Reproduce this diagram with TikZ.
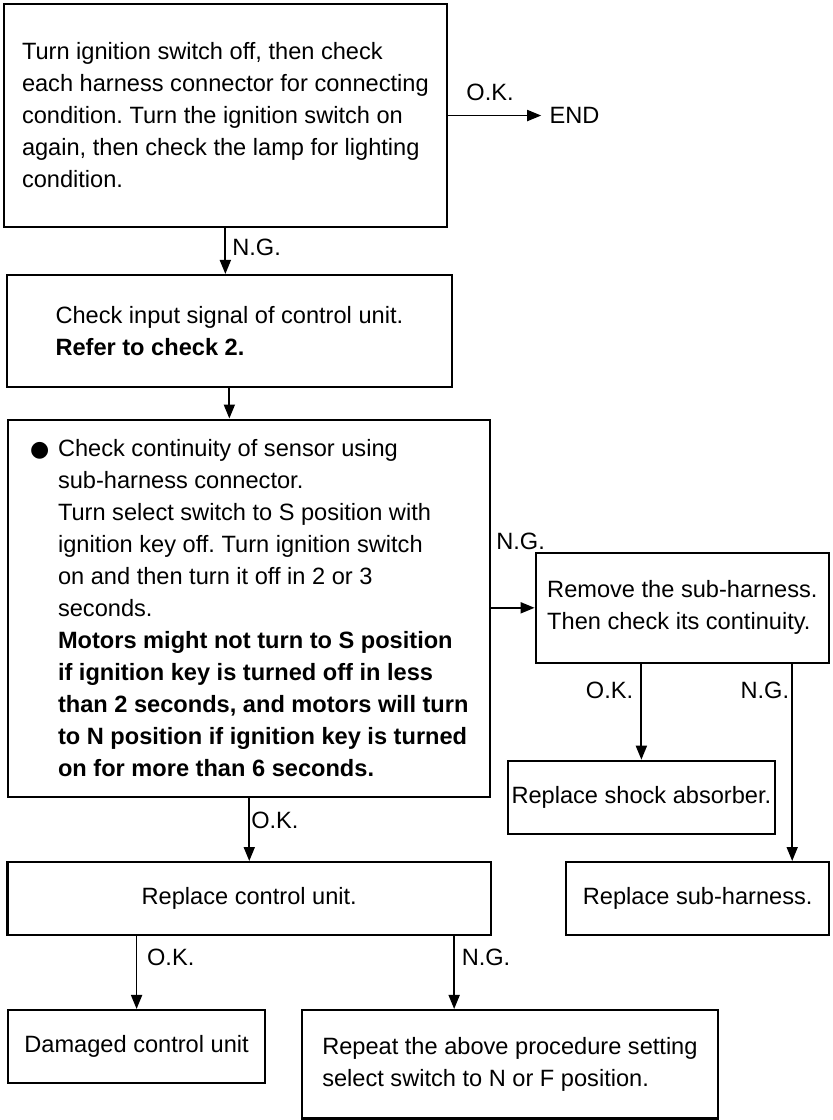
\documentclass[tikz,border=0pt]{standalone}
\usepackage{fontspec}
\setmainfont{Liberation Sans}
\newfontfamily\dotfont{DejaVu Sans}
\usetikzlibrary{arrows.meta}

\newcommand{\bul}{\makebox[14pt][l]{\dotfont\fontsize{11}{11}\selectfont ●}}
\newcommand{\ind}{\hspace*{14pt}}

\begin{document}
\frenchspacing
\begin{tikzpicture}[
  font=\fontsize{11.8}{16}\selectfont,
  box/.style={draw, line width=1.2pt, align=left, inner sep=0pt},
  lbl/.style={inner sep=1pt},
  arr/.style={-{Triangle[length=7pt, width=5.5pt]}, line width=0.9pt}
]
\useasboundingbox[fill=white] (0,0) rectangle (14.62,-19.68);

% --- ignition / harness check ---
\node[box, minimum width=77.8mm, minimum height=39.2mm] (chk1) at (3.96,-2.03)
  {Turn ignition switch off, then check\\each harness connector for connecting\\condition. Turn the ignition switch on\\again, then check the lamp for lighting\\condition.};
\node[lbl, anchor=west, inner xsep=4pt] (end) at (9.51,-2.03) {END};
\node[lbl] (ok1) at (8.61,-1.63) {O.K.};
\draw[arr] (chk1.east) -- (chk1.east -| end.west);

% --- input signal ---
\node[box, minimum width=78.2mm, minimum height=19.7mm] (chk2) at (4.03,-5.82)
  {Check input signal of control unit.\\\textbf{Refer to check 2.}};
\node[lbl, anchor=west] (ng1) at (4.04,-4.34) {N.G.};
\draw[arr] (chk1.south) -- (chk1.south |- chk2.north);

% --- sensor continuity ---
\node[box, minimum width=84.7mm, minimum height=66.3mm] (chk3) at (4.38,-10.69)
  {\bul Check continuity of sensor using\\
   \ind sub-harness connector.\\
   \ind Turn select switch to S position with\\
   \ind ignition key off. Turn ignition switch\\
   \ind on and then turn it off in 2 or 3\\
   \ind seconds.\\
   \ind\textbf{Motors might not turn to S position}\\
   \ind\textbf{if ignition key is turned off in less}\\
   \ind\textbf{than 2 seconds, and motors will turn}\\
   \ind\textbf{to N position if ignition key is turned}\\
   \ind\textbf{on for more than 6 seconds.}};
\draw[arr] (chk2.south) -- (chk2.south |- chk3.north);

% --- sub-harness branch ---
\node[box, minimum width=51.5mm, minimum height=19.3mm] (subh) at (11.99,-10.68)
  {Remove the sub-harness.\\Then check its continuity.};
\node[lbl, anchor=west] (ng2) at (8.68,-9.52) {N.G.};
\draw[arr] (chk3.east |- subh.west) -- (subh.west);

\node[box, minimum width=46.9mm, minimum height=12.8mm] (shock) at (11.27,-14.01) {Replace shock absorber.};
\node[box, minimum width=46.2mm, minimum height=12.8mm] (rsub) at (12.26,-15.79) {Replace sub-harness.};
\coordinate (ngx) at (13.92,0);
\node[lbl] (ok2) at (10.71,-12.13) {O.K.};
\node[lbl] (ng3) at (13.44,-12.13) {N.G.};
\draw[arr] (shock.north |- subh.south) -- (shock.north);
\draw[arr] (subh.south -| ngx) -- (rsub.north -| ngx);

% --- control unit ---
\node[box, minimum width=84.9mm, minimum height=12.8mm] (rcu) at (4.38,-15.79) {Replace control unit.};
\node[lbl] (ok3) at (4.83,-14.41) {O.K.};
\draw[arr] (chk3.south) -- (rcu.north);

\node[box, minimum width=45.2mm, minimum height=12.8mm] (dmg) at (2.40,-18.39) {Damaged control unit};
\node[box, minimum width=73.1mm, minimum height=19.0mm] (rep) at (8.96,-18.70)
  {Repeat the above procedure setting\\select switch to N or F position.};
\coordinate (ngy) at (7.98,0);
\node[lbl] (ok4) at (3.00,-16.83) {O.K.};
\node[lbl] (ng4) at (8.54,-16.83) {N.G.};
\draw[arr] (dmg.north |- rcu.south) -- (dmg.north);
\draw[arr] (rcu.south -| ngy) -- (rep.north -| ngy);
\end{tikzpicture}
\end{document}
